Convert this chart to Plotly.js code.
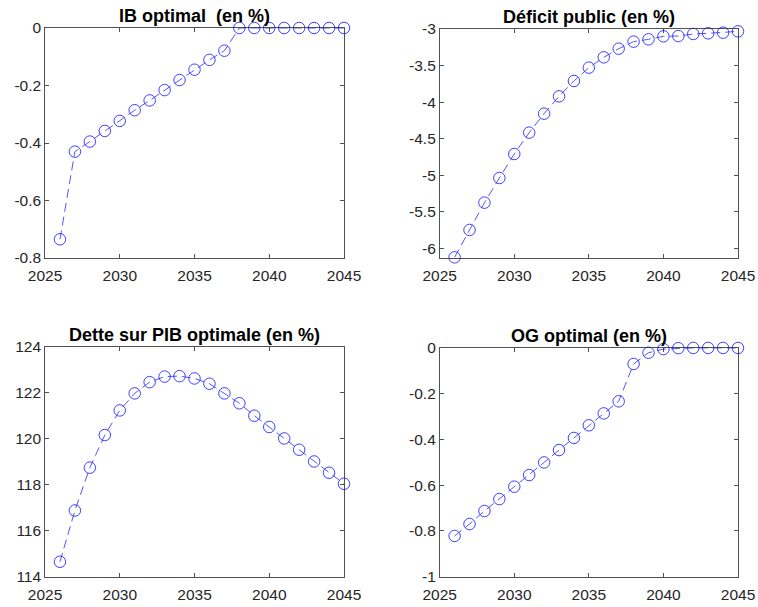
<!DOCTYPE html>
<html><head><meta charset="utf-8">
<script src="https://cdn.plot.ly/plotly-3.0.1.min.js"></script>
<style>body{margin:0;background:#fff}#c{width:758px;height:607px}</style>
</head><body><div id="c"></div>
<script>
const years = [2026,2027,2028,2029,2030,2031,2032,2033,2034,2035,2036,2037,2038,2039,2040,2041,2042,2043,2044,2045];
const ibOptimal = [-0.735,-0.430,-0.395,-0.358,-0.323,-0.286,-0.252,-0.216,-0.181,-0.145,-0.111,-0.079,0,0,0,0,0,0,0,0];
const deficitPublic = [-6.12,-5.746,-5.373,-5.036,-4.708,-4.416,-4.157,-3.92,-3.71,-3.528,-3.387,-3.269,-3.173,-3.141,-3.10,-3.096,-3.068,-3.059,-3.05,-3.032];
const detteSurPib = [114.65,116.88,118.74,120.16,121.23,121.97,122.46,122.70,122.72,122.62,122.39,121.97,121.54,121.0,120.51,120.01,119.52,119.01,118.52,118.04];
const ogOptimal = [-0.822,-0.770,-0.713,-0.661,-0.607,-0.556,-0.501,-0.447,-0.394,-0.339,-0.287,-0.234,-0.071,-0.022,-0.006,-0.002,-0.001,-0.001,-0.001,-0.001];

const titles = ["IB optimal \u00a0(en %)", "Déficit public (en %)", "Dette sur PIB optimale (en %)", "OG optimal (en %)"];
const xTickVals = [2025,2030,2035,2040,2045];
const xTickText = ["2025","2030","2035","2040","2045"];
const y1TickVals = [-0.8,-0.6,-0.4,-0.2,0];
const y1TickText = ["-0.8","-0.6","-0.4","-0.2","0"];
const y2TickVals = [-6,-5.5,-5,-4.5,-4,-3.5,-3];
const y2TickText = ["-6","-5.5","-5","-4.5","-4","-3.5","-3"];
const y3TickVals = [114,116,118,120,122,124];
const y3TickText = ["114","116","118","120","122","124"];
const y4TickVals = [-1,-0.8,-0.6,-0.4,-0.2,0];
const y4TickText = ["-1","-0.8","-0.6","-0.4","-0.2","0"];

const series = [ibOptimal, deficitPublic, detteSurPib, ogOptimal];
const traces = series.map((s,i)=>({
  x: years, y: s, type:'scatter', mode:'lines+markers',
  xaxis: i===0?'x':'x'+(i+1), yaxis: i===0?'y':'y'+(i+1),
  line:{color:'#2a2aff', width:0.8, dash:'9px,5px'},
  marker:{symbol:'circle-open', size:11.5, color:'#2a2aff', line:{width:0.9, color:'#2a2aff'}},
  cliponaxis:false, showlegend:false, hoverinfo:'skip'
}));

const W=758, H=607;
const boxes = [
  {l:45, r:344, t:28, b:258},
  {l:439.7, r:738, t:29, b:257.7},
  {l:45, r:344, t:346.7, b:576.7},
  {l:439.7, r:738, t:347.7, b:576.7}
];
const yRanges = [[-0.8,0],[-6.125,-3],[114,124],[-1,0]];
const yTV = [y1TickVals,y2TickVals,y3TickVals,y4TickVals];
const yTT = [y1TickText,y2TickText,y3TickText,y4TickText];
const font = {family:'Liberation Sans, Arial, sans-serif', size:15.5, color:'#262626'};
const layout = {
  width:W, height:H, margin:{l:0,r:0,t:0,b:0}, paper_bgcolor:'#fff', plot_bgcolor:'#fff',
  font: font, showlegend:false, annotations:[]
};
boxes.forEach((b,i)=>{
  const sx = i===0?'':String(i+1);
  layout['xaxis'+sx] = {
    domain:[b.l/W, b.r/W], anchor:'y'+sx, range:[2025,2045],
    tickvals:xTickVals, ticktext:xTickText, ticks:'inside', ticklen:4, tickwidth:0.8, tickcolor:'#262626',
    showline:true, linecolor:'#262626', linewidth:0.8, mirror:'ticks', showgrid:false, zeroline:false,
    tickfont:font, fixedrange:true, ticklabelstandoff:4
  };
  layout['yaxis'+sx] = {
    domain:[1-b.b/H, 1-b.t/H], anchor:'x'+sx, range:yRanges[i],
    tickvals:yTV[i], ticktext:yTT[i], ticks:'inside', ticklen:4, tickwidth:0.8, tickcolor:'#262626',
    showline:true, linecolor:'#262626', linewidth:0.8, mirror:'ticks', showgrid:false, zeroline:false,
    tickfont:font, fixedrange:true
  };
  layout.annotations.push({
    text:'<b>'+titles[i]+'</b>', xref:'paper', yref:'paper',
    x:(b.l+b.r)/2/W, y:1-(b.t-11.5)/H, xanchor:'center', yanchor:'middle', showarrow:false,
    font:{family:'Liberation Sans, Arial, sans-serif', size:18, color:'#000'}
  });
});
Plotly.newPlot('c', traces, layout, {staticPlot:true});
</script></body></html>
